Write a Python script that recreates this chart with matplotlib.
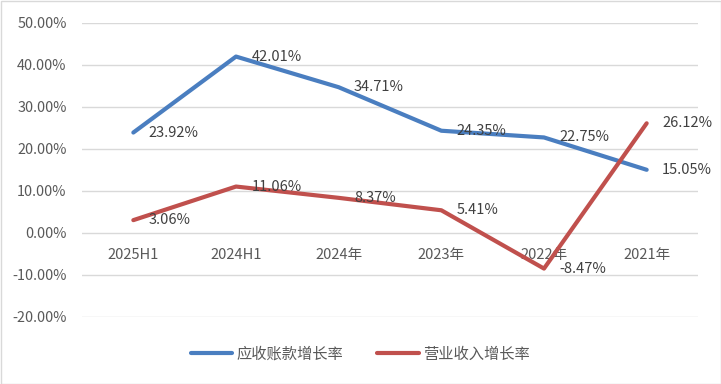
import matplotlib
matplotlib.use("Agg")
import matplotlib.pyplot as plt
from matplotlib.patches import Rectangle
from matplotlib.ticker import FuncFormatter, MultipleLocator

plt.rcParams['font.family'] = ['Noto Sans CJK SC', 'DejaVu Sans']

categories = ["2025H1", "2024H1", "2024年", "2023年", "2022年", "2021年"]
receivables_growth = [23.92, 42.01, 34.71, 24.35, 22.75, 15.05]
revenue_growth = [3.06, 11.06, 8.37, 5.41, -8.47, 26.12]
series_names = ["应收账款增长率", "营业收入增长率"]

fig = plt.figure(figsize=(7.21, 3.84), dpi=100)
ax = fig.add_axes([82/721, 1-317/384, (698-82)/721, (317-23)/384])

x = list(range(len(categories)))
colors = ["#4A7EC0", "#C0504D"]
txt_color = "#595959"
for vals, c, name in zip([receivables_growth, revenue_growth], colors, series_names):
    ax.plot(x, [v/100 for v in vals], color=c, lw=3.0, solid_capstyle='round',
            solid_joinstyle='round', label=name)
    for xi, v in zip(x, vals):
        ax.annotate(f"{v:.2f}%", (xi, v/100), xytext=(11, 0), textcoords='offset points',
                    ha='left', va='center', fontsize=10.5, color="#404040")

ax.set_xlim(-0.5, len(categories)-0.5)
ax.set_ylim(-0.2, 0.5)
ax.yaxis.set_major_locator(MultipleLocator(0.1))
ax.yaxis.set_major_formatter(FuncFormatter(lambda v, p: f"{v*100:.2f}%"))
ax.grid(axis='y', color="#D9D9D9", lw=1)
ax.set_axisbelow(True)
for s in ['top', 'right', 'left']:
    ax.spines[s].set_visible(False)
ax.spines['bottom'].set_position(('data', 0))
ax.spines['bottom'].set_color('none')
ax.set_xticks(x)
ax.set_xticklabels(categories)
ax.tick_params(axis='x', length=0, pad=11, labelsize=10.5, labelcolor=txt_color)
ax.tick_params(axis='y', length=0, pad=11, labelsize=10.4, labelcolor=txt_color)

leg = fig.legend(loc='center', bbox_to_anchor=(0.5, 1-354/384), ncol=2, frameon=False,
                 fontsize=11, handlelength=2.7, columnspacing=2.2, handletextpad=0.3)
for t in leg.get_texts():
    t.set_color(txt_color)

fig.patches.append(Rectangle((0.5/721, 0.5/384), 1-1/721, 1-1/384, transform=fig.transFigure,
                             fill=False, edgecolor="#D9D9D9", lw=1))

fig.savefig("out.png", dpi=100)
